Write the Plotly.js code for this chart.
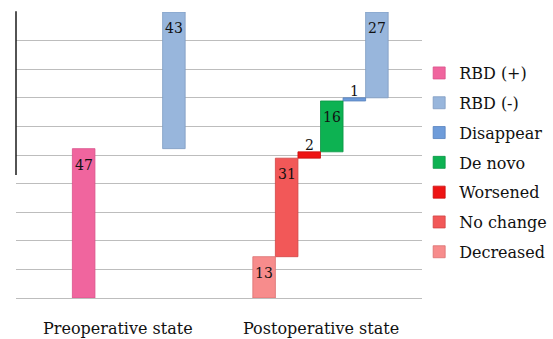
<!DOCTYPE html>
<html>
<head>
<meta charset="utf-8">
<script src="https://cdn.plot.ly/plotly-3.0.1.min.js"></script>
<style>html,body{margin:0;padding:0;background:#fff;}#chart{width:553px;height:339px;}</style>
</head>
<body>
<div id="chart"></div>
<script>
// ---- data ----
const groups = ['Preoperative state', 'Postoperative state'];
const seriesNames = ['RBD (+)', 'RBD (-)', 'Disappear', 'De novo', 'Worsened', 'No change', 'Decreased'];
const rbdPlus   = [47, null];
const rbdMinus  = [43, 27];
const disappear = [null, 1];
const deNovo    = [null, 16];
const worsened  = [null, 2];
const noChange  = [null, 31];
const decreased = [null, 13];

// ---- styling ----
const FONT = "DejaVu Serif";
const seriesValues = {
  'RBD (+)': rbdPlus, 'RBD (-)': rbdMinus, 'Disappear': disappear, 'De novo': deNovo,
  'Worsened': worsened, 'No change': noChange, 'Decreased': decreased
};
const colors = {
  'RBD (+)': '#F0659E', 'RBD (-)': '#98B6DC', 'Disappear': '#6E9CDA', 'De novo': '#0DB252',
  'Worsened': '#EE1414', 'No change': '#F25858', 'Decreased': '#F78C8C'
};
const lineColors = {
  'RBD (+)': '#D9508A', 'RBD (-)': '#7F9CC2', 'Disappear': '#5580BC', 'De novo': '#0A9444',
  'Worsened': '#C80E0E', 'No change': '#D24444', 'Decreased': '#DA7070'
};
// order in which bars are stacked (bottom to top)
const stackOrder = ['Decreased', 'No change', 'Worsened', 'De novo', 'Disappear', 'RBD (+)', 'RBD (-)'];

const bases = {}; const cats = {};
seriesNames.forEach(n => { bases[n] = groups.map(() => null); cats[n] = groups.map(() => null); });
const categoryArray = [];
let spacer = 0;
groups.forEach((g, gi) => {
  let cum = 0;
  stackOrder.forEach(n => {
    const v = seriesValues[n][gi];
    if (v === null) return;
    bases[n][gi] = cum;
    cum += v;
    const key = g + '|' + n;
    cats[n][gi] = key;
    categoryArray.push(key);
    if (gi === 0) { for (let k = 0; k < 3; k++) categoryArray.push('_sp' + (spacer++)); }
  });
});

const traces = seriesNames.map(n => ({
  type: 'bar',
  name: n,
  legendgroup: n,
  x: cats[n].filter((c, i) => seriesValues[n][i] !== null),
  y: seriesValues[n].filter(v => v !== null),
  base: bases[n].filter((b, i) => seriesValues[n][i] !== null),
  width: 1,
  marker: { color: colors[n], line: { color: lineColors[n], width: 0.8 } },
  hoverinfo: 'name+y'
}));

const annotations = [];
seriesNames.forEach(n => {
  seriesValues[n].forEach((v, gi) => {
    if (v === null) return;
    const top = bases[n][gi] + v;
    const small = v < 5;
    annotations.push({
      x: cats[n][gi], y: top, xref: 'x', yref: 'y', text: String(v), showarrow: false,
      yanchor: 'middle', yshift: small ? 7 : -16,
      font: { family: FONT, size: 14, color: '#111' }
    });
  });
});
// group labels under the axis
const groupCenters = [1.5, 10.5];
groups.forEach((g, gi) => {
  annotations.push({
    x: groupCenters[gi], y: -0.105, xref: 'x', yref: 'paper', text: g, showarrow: false,
    yanchor: 'middle', xanchor: 'center',
    font: { family: FONT, size: 16, color: '#111' }
  });
});

const layout = {
  width: 553, height: 339,
  margin: { l: 16, r: 131, t: 12, b: 41, pad: 0, autoexpand: false },
  paper_bgcolor: '#fff', plot_bgcolor: '#fff',
  barmode: 'overlay',
  showlegend: true,
  font: { family: FONT },
  legend: {
    x: 0.993, y: 0.846, xanchor: 'left', yanchor: 'top',
    font: { family: FONT, size: 16, color: '#111' },
    traceorder: 'grouped', tracegroupgap: 6, itemwidth: 30, bgcolor: 'rgba(0,0,0,0)'
  },
  xaxis: {
    type: 'category', categoryorder: 'array', categoryarray: categoryArray,
    range: [-3, 15], showticklabels: false, showgrid: false, zeroline: false,
    showline: false, ticks: '', fixedrange: true
  },
  yaxis: {
    range: [0, 90], tick0: 0, dtick: 9, showticklabels: false, ticks: '',
    showgrid: true, gridcolor: '#BDBDBD', gridwidth: 1,
    zeroline: true, zerolinecolor: '#BDBDBD', zerolinewidth: 1, showline: false, fixedrange: true
  },
  shapes: [{
    type: 'line', xref: 'paper', yref: 'paper', x0: 0, x1: 0, y0: 0.43, y1: 1.003,
    line: { color: '#1a1a1a', width: 1.5 }
  }],
  annotations: annotations
};

Plotly.newPlot('chart', traces, layout, { displayModeBar: false, staticPlot: true });
</script>
</body>
</html>
